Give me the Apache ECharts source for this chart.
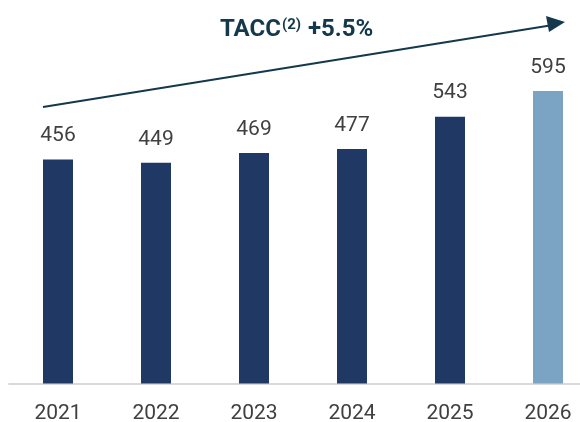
<!DOCTYPE html>
<html>
<head>
<meta charset="utf-8">
<script src="https://cdn.jsdelivr.net/npm/echarts@6/dist/echarts.min.js"></script>
<style>
  html, body { margin: 0; padding: 0; background: #fff; }
  #chart { width: 580px; height: 422px; }
</style>
</head>
<body>
<div id="chart"></div>
<script>
var years = ['2021', '2022', '2023', '2024', '2025', '2026']
var values = [456, 449, 469, 477, 543, 595]
var barColors = ['#203864', '#203864', '#203864', '#203864', '#203864', '#7aa3c4']

var myChart = echarts.init(document.getElementById('chart'))
var option = {
  animation: false,
  grid: { left: 9, width: 588, top: 39.5, bottom: 38.5, outerBoundsMode: 'none', containLabel: false },
  xAxis: {
    type: 'category',
    data: years,
    axisLine: { lineStyle: { color: '#d9d9d9', width: 2 } },
    axisTick: { show: false },
    axisLabel: { color: '#404040', fontSize: 21, fontFamily: 'Roboto', margin: 20 }
  },
  yAxis: {
    type: 'value',
    min: 0,
    max: 700,
    show: false
  },
  graphic: [
    {
      type: 'line',
      shape: { x1: 43, y1: 107, x2: 553, y2: 25 },
      style: { stroke: '#14384c', lineWidth: 2 }
    },
    {
      type: 'polygon',
      shape: { points: [[565, 22], [546, 16], [549, 32]] },
      style: { fill: '#14384c' }
    },
    {
      type: 'text',
      left: 220,
      top: 18,
      style: {
        text: '{a|TACC}{b|(2)}{a| +5.5%}',
        rich: {
          a: { fontSize: 24, fontWeight: 'bold', fill: '#14384c', fontFamily: 'Roboto' },
          b: { fontSize: 15, fontWeight: 'bold', fill: '#14384c', fontFamily: 'Roboto', verticalAlign: 'top', padding: [0, 1, 8, 1] }
        }
      }
    }
  ],
  series: [{
    type: 'bar',
    barWidth: 30,
    data: values.map(function (v, i) {
      return { value: v, itemStyle: { color: barColors[i] } }
    }),
    label: {
      show: true,
      position: 'top',
      distance: 13,
      color: '#404040',
      fontSize: 21,
      fontFamily: 'Roboto'
    }
  }]
}
myChart.setOption(option)
window.addEventListener('resize', function () {
  myChart.resize()
})
</script>
</body>
</html>
